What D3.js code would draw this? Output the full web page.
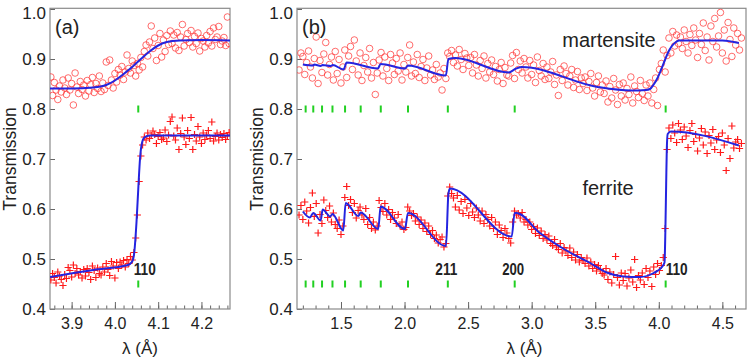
<!DOCTYPE html>
<html>
<head>
<meta charset="utf-8">
<script src="https://cdn.jsdelivr.net/npm/d3@7"></script>
<style>
  body { margin: 0; background: #fff; }
  svg { display: block; }
  text { font-family: "Liberation Sans", Arial, sans-serif; fill: #222; }
</style>
</head>
<body>
<svg width="749" height="360"></svg>
<script>
// wavelength bins (start, step) and measured transmission per bin
const leftStart = 3.852, leftStep = 0.004
const leftMart = [
  0.864,0.827,0.853,0.838,0.819,0.846,0.834,0.858,0.842,0.829,
  0.862,0.838,0.851,0.808,0.872,0.844,0.831,0.855,0.839,0.848,
  0.826,0.857,0.836,0.849,0.863,0.833,0.851,0.841,0.866,0.835,
  0.852,0.839,0.894,0.847,0.898,0.858,0.842,0.871,0.854,0.879,
  0.868,0.885,0.859,0.874,0.908,0.881,0.872,0.896,0.887,0.866,
  0.891,0.878,0.903,0.884,0.915,0.928,0.906,0.934,0.966,0.921,
  0.942,0.897,0.927,0.951,0.904,0.938,0.915,0.947,0.929,0.956,
  0.931,0.948,0.922,0.953,0.917,0.944,0.969,0.926,0.939,0.951,
  0.933,0.957,0.924,0.945,0.931,0.952,0.916,0.941,0.936,0.924,
  0.947,0.932,0.955,0.926,0.962,0.939,0.944,0.965,0.929,0.936,
  0.943,0.927,0.984,0.931
]
const leftFerr = [
  0.458,0.471,0.463,0.452,0.474,0.466,0.459,0.447,0.469,0.461,
  0.483,0.477,0.464,0.488,0.471,0.481,0.468,0.475,0.462,0.479,
  0.466,0.481,0.473,0.459,0.486,0.477,0.463,0.482,0.471,0.468,
  0.484,0.474,0.491,0.479,0.467,0.495,0.486,0.462,0.493,0.481,
  0.494,0.488,0.497,0.484,0.499,0.491,0.505,0.498,0.513,0.542,
  0.588,0.655,0.706,0.728,0.744,0.738,0.752,0.741,0.747,0.756,
  0.749,0.731,0.745,0.753,0.739,0.742,0.758,0.735,0.748,0.775,
  0.784,0.746,0.738,0.762,0.719,0.751,0.782,0.744,0.729,0.757,
  0.741,0.783,0.719,0.749,0.736,0.765,0.744,0.731,0.752,0.739,
  0.748,0.757,0.741,0.774,0.736,0.745,0.752,0.738,0.749,0.743,
  0.751,0.739,0.746,0.753
]

const rightStart = 1.170, rightStep = 0.015
const rightMart = [
  0.878,0.912,0.905,0.869,0.893,0.916,0.884,0.862,0.901,0.944,
  0.851,0.897,0.873,0.910,0.933,0.868,0.889,0.904,0.858,0.915,
  0.871,0.899,0.852,0.884,0.918,0.863,0.906,0.925,0.879,0.938,
  0.896,0.868,0.912,0.857,0.887,0.903,0.874,0.921,0.862,0.893,
  0.829,0.872,0.898,0.913,0.866,0.904,0.881,0.857,0.909,0.892,
  0.869,0.901,0.876,0.912,0.858,0.889,0.874,0.903,0.928,0.866,
  0.894,0.871,0.909,0.863,0.885,0.899,0.857,0.882,0.906,0.868,
  0.878,0.859,0.889,0.864,0.872,0.838,0.881,0.861,0.912,0.905,
  0.917,0.893,0.908,0.886,0.919,0.899,0.879,0.911,0.902,0.887,
  0.903,0.872,0.909,0.888,0.866,0.897,0.881,0.906,0.862,0.891,
  0.874,0.898,0.869,0.885,0.856,0.879,0.893,0.851,0.883,0.868,
  0.866,0.892,0.907,0.861,0.913,0.879,0.896,0.872,0.901,0.884,
  0.862,0.897,0.869,0.888,0.853,0.904,0.877,0.866,0.891,0.859,
  0.884,0.861,0.874,0.895,0.849,0.868,0.827,0.879,0.857,0.886,
  0.871,0.848,0.866,0.879,0.843,0.858,0.875,0.839,0.862,0.851,
  0.864,0.837,0.855,0.871,0.842,0.826,0.853,0.866,0.834,0.848,
  0.831,0.856,0.814,0.845,0.822,0.861,0.838,0.809,0.849,0.826,
  0.852,0.818,0.841,0.829,0.864,0.812,0.846,0.835,0.823,0.857,
  0.831,0.817,0.848,0.826,0.852,0.812,0.839,0.862,0.807,0.879,
  0.891,0.918,0.874,0.907,0.942,0.912,0.955,0.926,0.948,0.931,
  0.944,0.921,0.958,0.935,0.912,0.949,0.927,0.962,0.938,0.903,
  0.951,0.929,0.972,0.917,0.944,0.898,0.966,0.935,0.981,0.924,
  0.946,0.993,0.912,0.958,0.896,0.973,0.939,0.905,0.962,0.928,
  0.951,0.918,0.942
]
const rightFerr = [
  0.588,0.607,0.579,0.614,0.596,0.572,0.603,0.632,0.585,0.611,
  0.552,0.589,0.571,0.618,0.597,0.583,0.606,0.574,0.592,0.569,
  0.561,0.578,0.549,0.566,0.623,0.645,0.607,0.619,0.593,0.611,
  0.582,0.597,0.604,0.588,0.579,0.601,0.569,0.583,0.561,0.574,
  0.558,0.566,0.617,0.603,0.595,0.611,0.588,0.599,0.579,0.593,
  0.582,0.571,0.589,0.566,0.574,0.559,0.563,0.604,0.596,0.587,
  0.591,0.576,0.584,0.569,0.578,0.561,0.572,0.555,0.566,0.549,
  0.557,0.541,0.548,0.532,0.539,0.544,0.524,0.531,0.626,0.644,
  0.631,0.622,0.604,0.627,0.598,0.615,0.591,0.619,0.602,0.587,
  0.611,0.594,0.583,0.602,0.588,0.576,0.596,0.571,0.589,0.579,
  0.566,0.583,0.561,0.574,0.549,0.568,0.557,0.543,0.561,0.552,
  0.541,0.532,0.574,0.596,0.588,0.591,0.582,0.593,0.574,0.579,
  0.568,0.574,0.559,0.565,0.551,0.562,0.547,0.556,0.541,0.549,
  0.538,0.546,0.531,0.527,0.539,0.524,0.519,0.531,0.512,0.523,
  0.516,0.507,0.522,0.503,0.514,0.498,0.509,0.494,0.503,0.497,
  0.491,0.502,0.486,0.494,0.481,0.489,0.476,0.487,0.479,0.471,
  0.468,0.481,0.459,0.474,0.452,0.469,0.505,0.463,0.448,0.472,
  0.457,0.471,0.446,0.462,0.478,0.454,0.499,0.443,0.467,0.458,
  0.472,0.449,0.481,0.463,0.476,0.445,0.484,0.469,0.491,0.477,
  0.487,0.503,0.561,0.719,0.762,0.741,0.768,0.752,0.733,0.771,
  0.758,0.739,0.764,0.746,0.723,0.757,0.771,0.735,0.749,0.716,
  0.742,0.761,0.728,0.754,0.711,0.747,0.732,0.759,0.719,0.738,
  0.745,0.713,0.752,0.728,0.677,0.741,0.701,0.766,0.722,0.734,
  0.739,0.721,0.731
]

// fitted curves [lambda, T]
const leftMartFit = [[3.85,0.841],[3.90,0.841],[3.95,0.843],[3.98,0.848],[4.00,0.857],[4.02,0.870],
  [4.04,0.884],[4.06,0.900],[4.08,0.915],[4.10,0.927],[4.12,0.934],[4.15,0.937],[4.20,0.938],[4.266,0.937]]
const leftFerrFit = [[3.85,0.464],[3.95,0.478],[4.03,0.488],[4.040,0.495],[4.045,0.515],[4.050,0.575],
  [4.054,0.640],[4.058,0.700],[4.062,0.730],[4.068,0.743],[4.08,0.747],[4.266,0.747]]
const rightMartFit = [[1.20,0.889],[1.28,0.887],[1.29,0.889],[1.34,0.886],[1.355,0.888],[1.42,0.886],
  [1.435,0.888],[1.52,0.879],[1.545,0.893],[1.79,0.881],[1.812,0.890],[2.005,0.881],[2.027,0.887],
  [2.325,0.867],[2.345,0.900],[2.40,0.902],[2.82,0.873],[2.87,0.880],[2.92,0.884],[3.52,0.844],
  [3.78,0.837],[3.90,0.838],[3.93,0.840],[3.96,0.849],[3.99,0.862],[4.02,0.880],[4.05,0.899],
  [4.075,0.914],[4.10,0.925],[4.13,0.933],[4.16,0.937],[4.50,0.937],[4.63,0.932]]
const rightFerrFit = [[1.20,0.595],[1.255,0.583],[1.282,0.592],[1.34,0.577],[1.356,0.599],[1.415,0.585],
  [1.433,0.590],[1.518,0.557],[1.537,0.612],[1.636,0.586],[1.655,0.593],[1.793,0.560],[1.812,0.605],
  [2.003,0.560],[2.027,0.592],[2.326,0.526],[2.345,0.630],[2.357,0.641],[2.843,0.545],[2.866,0.592],
  [2.88,0.592],[3.065,0.552],[3.26,0.519],[3.46,0.492],[3.59,0.473],[3.72,0.465],[3.85,0.464],
  [3.96,0.472],[4.025,0.484],[4.045,0.493],[4.052,0.560],[4.058,0.650],[4.063,0.720],[4.07,0.750],
  [4.095,0.755],[4.63,0.727]]

// bcc Fe Bragg edges
const edges = [4.054, 2.8665, 2.3405, 2.027, 1.813, 1.655, 1.532, 1.433, 1.351, 1.282, 1.222]
const edgeRows = [0.8, 0.45]

const yTicks = [0.4, 0.5, 0.6, 0.7, 0.8, 0.9, 1.0]
const leftXTicks = [3.9, 4.0, 4.1, 4.2]
const rightXTicks = [1.5, 2.0, 2.5, 3.0, 3.5, 4.0, 4.5]

const svg = d3.select('svg')
const plotTop = 9, plotBottom = 309

const y = d3.scaleLinear().domain([0.4, 1.0]).range([plotBottom, plotTop])

const panels = [
  { id: 'a', left: 50, right: 230, domain: [3.85, 4.266], start: leftStart, step: leftStep,
    mart: leftMart, ferr: leftFerr, martFit: leftMartFit, ferrFit: leftFerrFit,
    ticks: leftXTicks, minor: d3.range(3.86, 4.265, 0.02), edges: [4.054],
    labels: [{ text: '110', lam: 4.054, anchor: 'start', dx: -4.5 }],
    titleX: 16, tag: '(a)' },
  { id: 'b', left: 297, right: 746, domain: [1.154, 4.686], start: rightStart, step: rightStep,
    mart: rightMart, ferr: rightFerr, martFit: rightMartFit, ferrFit: rightFerrFit,
    ticks: rightXTicks, minor: d3.range(1.2, 4.65, 0.1), edges: edges,
    labels: [{ text: '211', lam: 2.3405, anchor: 'middle', dx: -1.5 },
             { text: '200', lam: 2.8665, anchor: 'middle', dx: -1.5 },
             { text: '110', lam: 4.054, anchor: 'start', dx: 0 }],
    titleX: 263, tag: '(b)' }
]

panels.forEach(p => {
  const x = d3.scaleLinear().domain(p.domain).range([p.left, p.right])
  const g = svg.append('g')

  g.append('clipPath').attr('id', 'clip-' + p.id)
    .append('rect').attr('x', p.left).attr('y', plotTop - 1)
    .attr('width', p.right - p.left).attr('height', plotBottom - plotTop + 1)

  // minor and major x ticks (inside)
  g.append('g').attr('transform', `translate(0,${plotBottom})`)
    .call(d3.axisBottom(x).tickValues(p.minor).tickSize(-3.5).tickFormat(''))
    .call(a => a.select('.domain').remove())
    .selectAll('line').attr('stroke', '#666')
  const xa = g.append('g').attr('transform', `translate(0,${plotBottom})`)
    .call(d3.axisBottom(x).tickValues(p.ticks).tickSize(-7).tickPadding(8.5).tickFormat(d3.format('.1f')))
  xa.select('.domain').remove()
  xa.selectAll('line').attr('stroke', '#666')
  xa.selectAll('text').attr('font-size', 16).attr('fill', '#222')

  const ya = g.append('g').attr('transform', `translate(${p.left},0)`)
    .call(d3.axisLeft(y).tickValues(yTicks).tickSize(-5).tickPadding(4).tickFormat(d3.format('.1f')))
  ya.select('.domain').remove()
  ya.selectAll('line').attr('stroke', '#666')
  ya.selectAll('text').attr('font-size', 17).attr('fill', '#222')
    .filter(d => d === 1.0).attr('dy', '0.53em')

  g.append('rect').attr('x', p.left).attr('y', plotTop - 0.7)
    .attr('width', p.right - p.left).attr('height', plotBottom - plotTop + 0.7)
    .attr('fill', 'none').attr('stroke', '#8a8a8a').attr('stroke-width', 1.2)

  const marks = g.append('g').attr('clip-path', `url(#clip-${p.id})`)
  const lam = i => p.start + i * p.step

  marks.append('g').selectAll('circle').data(p.mart).join('circle')
    .attr('cx', (d, i) => x(lam(i))).attr('cy', d => y(d)).attr('r', 3.3)
    .attr('fill', 'none').attr('stroke', '#ff3b3b').attr('stroke-opacity', 0.75).attr('stroke-width', 1)

  marks.append('g').selectAll('path').data(p.ferr).join('path')
    .attr('transform', (d, i) => `translate(${x(lam(i))},${y(d)})`)
    .attr('d', 'M-3.6,0H3.6M0,-3.6V3.6')
    .attr('stroke', '#ff1a1a').attr('stroke-width', 1.2)

  const line = d3.line().x(d => x(d[0])).y(d => y(d[1])).curve(d3.curveMonotoneX)
  ;[p.martFit, p.ferrFit].forEach(fit => {
    marks.append('path').datum(fit).attr('d', line)
      .attr('fill', 'none').attr('stroke', '#2424e0').attr('stroke-width', 2)
  })

  // Bragg edge markers
  edgeRows.forEach(r => {
    g.append('g').selectAll('line').data(p.edges).join('line')
      .attr('x1', d => x(d)).attr('x2', d => x(d))
      .attr('y1', y(r) - 3.5).attr('y2', y(r) + 3.5)
      .attr('stroke', '#22d022').attr('stroke-width', 2)
  })

  g.append('g').selectAll('text').data(p.labels).join('text')
    .attr('x', d => x(d.lam) + d.dx).attr('y', 275)
    .attr('text-anchor', d => d.anchor)
    .attr('font-size', 16).attr('font-weight', 'bold').attr('fill', '#111')
    .attr('textLength', 22).attr('lengthAdjust', 'spacingAndGlyphs')
    .text(d => d.text)

  g.append('text').attr('x', p.left + 5).attr('y', 34).attr('font-size', 20).text(p.tag)

  g.append('text').attr('transform', `translate(${p.titleX},${(plotTop + plotBottom) / 2}) rotate(-90)`)
    .attr('text-anchor', 'middle').attr('font-size', 17.5).text('Transmission')

  g.append('text').attr('x', (p.left + p.right) / 2 + (p.id === 'b' ? 3 : 0)).attr('y', 354)
    .attr('text-anchor', 'middle').attr('font-size', 17).text('λ (Å)')
})

svg.append('text').attr('x', 609).attr('y', 47).attr('text-anchor', 'middle')
  .attr('font-size', 20).text('martensite')
svg.append('text').attr('x', 608).attr('y', 195).attr('text-anchor', 'middle')
  .attr('font-size', 20).text('ferrite')
</script>
</body>
</html>
